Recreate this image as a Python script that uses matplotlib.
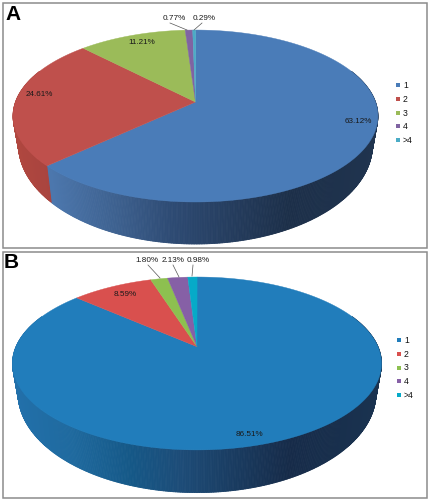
import numpy as np
import matplotlib
matplotlib.use("Agg")
import matplotlib.pyplot as plt
from matplotlib.patches import Rectangle, Polygon
from matplotlib.collections import PolyCollection

plt.rcParams['font.family'] = ['Liberation Sans', 'DejaVu Sans']

# =========================
# Data
# =========================

categories = ["1", "2", "3", "4", ">4"]
values_a = [63.12, 24.61, 11.21, 0.77, 0.29]
values_b = [86.51, 8.59, 1.80, 2.13, 0.98]

# =========================
# Styles
# =========================

colors_a = ["#4a7cb8", "#bf504c", "#9bbb59", "#8064a2", "#4bacc6"]
colors_b = ["#217dbb", "#d9504e", "#8dc050", "#8660a6", "#06aac8"]

wall_a = {
    0: ([50, 120, 170, 290, 378], ["#4c77ad", "#3c5f8d", "#2e4b74", "#1c2f49", "#20344f"]),
    1: ([13, 50], ["#b0473f", "#a8443f"]),
}
wall_b = {
    0: ([13, 70, 130, 180, 290, 381], ["#2270aa", "#1f6a9f", "#155887", "#1d4c78", "#162b49", "#1a3350"]),
}


def project(theta, g):
    # clockwise angle from the top of the pie -> pixel position on the tilted disc
    u = np.sin(theta)
    v = np.cos(theta)
    w = 1 + g["p"] * v
    return g["cx"] + g["a"] * u / w, g["apex_y"] - g["b"] * v / w


def lower_rim(x, y, g):
    # the bottom edge of the wall is a narrower, more open ellipse
    return g["cx"] + (x - g["cx"]) * g["shrink"], g["low_cy"] + (y - g["rim_cy"]) * g["open"]


def draw_pie(ax, values, colors, walls, g):
    edges = np.radians(np.concatenate([[0], np.cumsum(values)]) * 3.6)

    # side wall, only the part facing the viewer
    thetas = np.linspace(np.pi / 2 - 0.4, 3 * np.pi / 2 + 0.4, 500)
    quads = []
    quad_colors = []
    for t0, t1 in zip(thetas[:-1], thetas[1:]):
        mid = (t0 + t1) / 2
        idx = np.searchsorted(edges, mid) - 1
        if idx not in walls:
            continue
        x0, y0 = project(t0, g)
        x1, y1 = project(t1, g)
        quads.append([(x0, y0), (x1, y1), lower_rim(x1, y1, g), lower_rim(x0, y0, g)])
        stops, cols = walls[idx]
        rgb = np.array([matplotlib.colors.to_rgb(c) for c in cols])
        xm = (x0 + x1) / 2
        quad_colors.append([np.interp(xm, stops, rgb[:, k]) for k in range(3)])
    ax.add_collection(PolyCollection(quads, facecolors=quad_colors, edgecolors=quad_colors, linewidths=0.6))

    # top face
    for i, color in enumerate(colors):
        t = np.linspace(edges[i], edges[i + 1], max(3, int((edges[i + 1] - edges[i]) * 80)))
        x, y = project(t, g)
        pts = np.column_stack([np.r_[g["cx"], x], np.r_[g["apex_y"], y]])
        ax.add_patch(Polygon(pts, closed=True, facecolor=color, edgecolor=color, linewidth=0.3))


def draw_legend(ax, colors, x, ys):
    for label, color, y in zip(categories, colors, ys):
        ax.add_patch(Rectangle((x - 2, y - 2), 4, 4, facecolor=color, edgecolor="none"))
        ax.text(x + 5, y + 0.3, label, fontsize=6.2, color="#111111", va="center", ha="left")


# =========================
# Figure
# =========================

fig = plt.figure(figsize=(4.30, 5.01), dpi=100)
ax = fig.add_axes([0, 0, 1, 1])
ax.set_xlim(0, 430)
ax.set_ylim(501, 0)
ax.axis("off")

for y, h in [(2.5, 245.5), (252, 246)]:
    ax.add_patch(Rectangle((2.5, y), 424.5, h, facecolor="white", edgecolor="#8c8c8c", linewidth=1.1))

# Panel A
geom_a = {"cx": 195.5, "apex_y": 102, "a": 180.0, "b": 83.7, "p": 0.163,
          "rim_cy": 116, "low_cy": 145, "open": 1.151, "shrink": 0.97}
draw_pie(ax, values_a, colors_a, wall_a, geom_a)
draw_legend(ax, colors_a, 398, [85, 99, 113, 126, 140])

# Panel B
geom_b = {"cx": 197, "apex_y": 346.7, "a": 181.0, "b": 83.2, "p": 0.194,
          "rim_cy": 363.5, "low_cy": 393.2, "open": 1.15, "shrink": 0.97}
draw_pie(ax, values_b, colors_b, wall_b, geom_b)
draw_legend(ax, colors_b, 399, [340, 354, 367.5, 381, 395])

# Value labels
labels = [
    (358, 121, values_a[0]), (39, 94, values_a[1]), (142, 42, values_a[2]),
    (174, 18, values_a[3]), (204, 18, values_a[4]),
    (249, 435, values_b[0]), (125, 294, values_b[1]), (147, 261, values_b[2]),
    (173, 261, values_b[3]), (198, 261, values_b[4]),
]
for x, y, value in labels:
    ax.text(x, y, f"{value:.2f}%", fontsize=5.9, color="#1a1a1a", ha="center", va="center")

# Leader lines
leaders = [
    ((170, 187), (23, 30)), ((202, 194), (23, 30)),
    ((148, 160), (265, 278)), ((173, 179), (265, 277)), ((193, 192), (265, 276)),
]
for xs, ys in leaders:
    ax.plot(xs, ys, color="#555555", linewidth=0.5)

ax.text(5, 14, "A", fontsize=15, fontweight="bold", color="black", ha="left", va="center")
ax.text(4, 262, "B", fontsize=15, fontweight="bold", color="black", ha="left", va="center")

fig.savefig("out.png", dpi=100)
